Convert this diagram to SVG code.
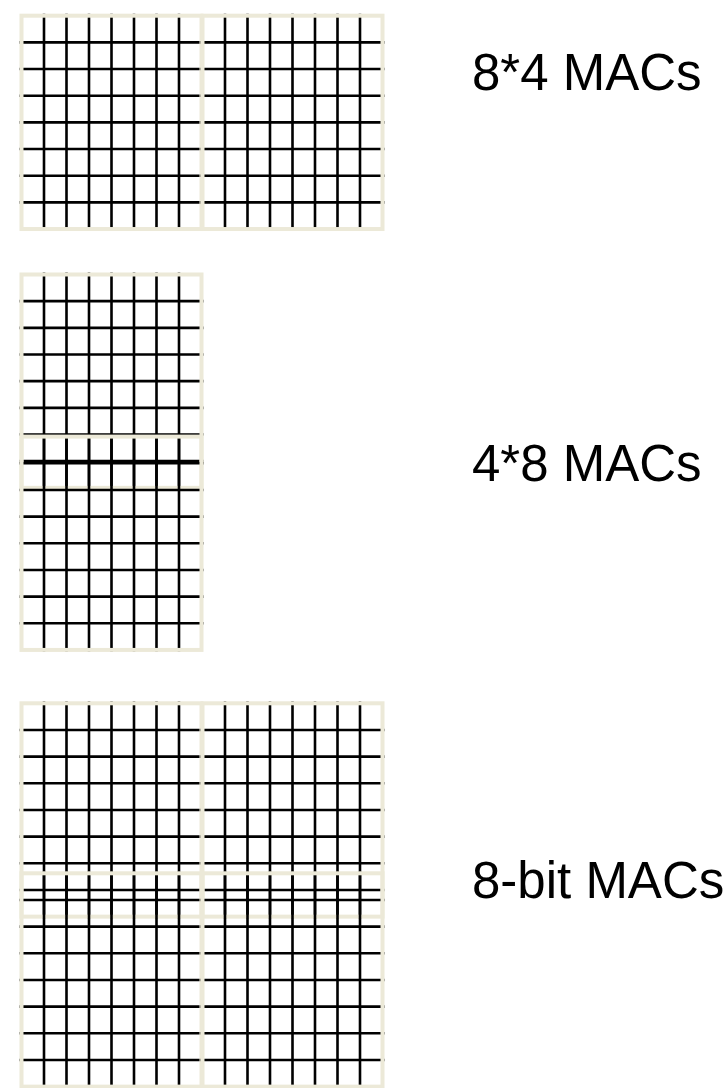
<svg xmlns="http://www.w3.org/2000/svg" xmlns:xlink="http://www.w3.org/1999/xlink" width="724" height="1088" viewBox="0 0 724 1088">
<style>
.ln{stroke:#000;stroke-width:2.6;fill:none}
.bd{stroke:#ECE9D8;stroke-width:4;fill:none}
.lbl{font-family:"Liberation Sans",Arial,sans-serif;font-size:51px;fill:#000}
</style>
<defs>
<g id="grid">
<path class="ln" d="M22.5,-2V215.3M45,-2V215.3M67.5,-2V215.3M90,-2V215.3M112.5,-2V215.3M135,-2V215.3M157.5,-2V215.3M-2,26.67H182M-2,53.33H182M-2,80H182M-2,106.67H182M-2,133.33H182M-2,160H182M-2,186.67H182"/>
<rect class="bd" x="0" y="0" width="180" height="213.33"/>
</g>
</defs>
<rect width="724" height="1088" fill="#fff"/>
<g id="mac8x4">
<use id="mac8x4-a" href="#grid" transform="translate(21.5,15.7)"/>
<use id="mac8x4-b" href="#grid" transform="translate(202.5,15.7)"/>
</g>
<g id="mac4x8">
<use id="mac4x8-a" href="#grid" transform="translate(21.5,274.5)"/>
<use id="mac4x8-b" href="#grid" transform="translate(21.5,436.6)"/>
</g>
<g id="mac8bit">
<use id="mac8bit-a" href="#grid" transform="translate(21.5,703.3)"/>
<use id="mac8bit-b" href="#grid" transform="translate(202.5,703.3)"/>
<use id="mac8bit-c" href="#grid" transform="translate(21.5,873.3)"/>
<use id="mac8bit-d" href="#grid" transform="translate(202.5,873.3)"/>
</g>
<g id="labels">
<text class="lbl" x="472" y="90">8*4 MACs</text>
<text class="lbl" x="472" y="481">4*8 MACs</text>
<text class="lbl" x="472" y="898">8-bit MACs</text>
</g>
<g id="connectors"/>
</svg>
